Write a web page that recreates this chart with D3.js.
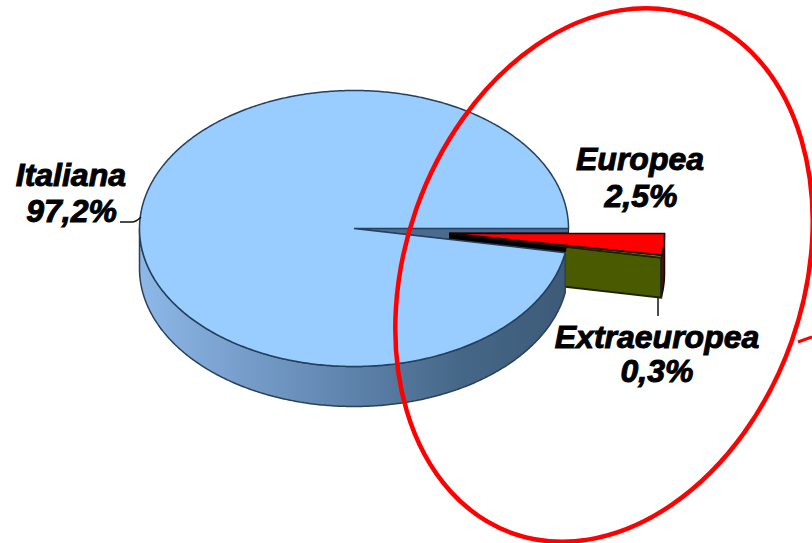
<!DOCTYPE html>
<html>
<head>
<meta charset="utf-8">
<script src="https://cdn.jsdelivr.net/npm/d3@7"></script>
<style>
html,body{margin:0;padding:0;background:#fff;overflow:hidden}
text{font-family:"Liberation Sans",Arial,sans-serif;font-weight:bold;font-style:italic;font-size:32px;fill:#000;stroke:#000;stroke-width:1px}
</style>
</head>
<body>
<svg id="c" width="812" height="543"></svg>
<script>
const categories = ["Europea", "Extraeuropea", "Italiana"];
const values = [2.5, 0.3, 97.2];
const valueLabels = ["2,5%", "0,3%", "97,2%"];
const colors = ["#ff0000", "#4a5a00", "#99ccff"];

const svg = d3.select("#c");
const defs = svg.append("defs");

const cx = 354, cy = 228.5, rx = 214.5, ry = 138, depth = 40;
const explodeX = 96, explodeY = 5;

const xS = d3.scaleLinear().domain([-1, 1]).range([cx - rx, cx + rx]);
const yS = d3.scaleLinear().domain([-1, 1]).range([cy - ry, cy + ry]);

const arcs = d3.pie().value(d => d).sort(null)
  .startAngle(Math.PI / 2).endAngle(Math.PI / 2 + 2 * Math.PI)(values);
// pie angles run clockwise from 12 o'clock
const toTheta = a => a - Math.PI / 2;
const line = d3.line().curve(d3.curveLinear);

const rim = (a0, a1, dx = 0, dy = 0) => {
  const n = Math.max(2, Math.ceil(Math.abs(a1 - a0) / 0.01));
  return d3.range(n + 1).map(i => {
    const t = toTheta(a0 + (a1 - a0) * i / n);
    return [xS(Math.cos(t)) + dx, yS(Math.sin(t)) + dy];
  });
};
const sector = (a0, a1, dx = 0, dy = 0) =>
  line([[cx + dx, cy + dy], ...rim(a0, a1, dx, dy)]) + "Z";
const radialWall = (a, dx, dy) => {
  const p = rim(a, a, dx, dy)[0];
  return line([[cx + dx, cy + dy], p, [p[0], p[1] + depth], [cx + dx, cy + dy + depth]]) + "Z";
};
const outerWall = (a0, a1, dx = 0, dy = 0) => {
  const top = rim(a0, a1, dx, dy);
  const bot = top.map(p => [p[0], p[1] + depth]).reverse();
  return line([...top, ...bot]) + "Z";
};

const eur = arcs[0], ext = arcs[1], ita = arcs[2];

const grad = defs.append("linearGradient").attr("id", "wall")
  .attr("gradientUnits", "userSpaceOnUse")
  .attr("x1", cx - rx).attr("x2", cx + rx).attr("y1", 0).attr("y2", 0);
[[0, "#8db8e8"], [0.2, "#7ba2d0"], [0.5, "#5d82ab"], [0.75, "#456787"], [1, "#3d5a78"]]
  .forEach(s => grad.append("stop").attr("offset", s[0]).attr("stop-color", s[1]));

defs.append("clipPath").attr("id", "cut").append("path")
  .attr("d", sector(eur.startAngle, ext.endAngle));

// exploded slices: walls
svg.append("path").attr("d", outerWall(eur.startAngle, ext.endAngle, explodeX, explodeY))
  .attr("fill", "#4a1020").attr("stroke", "#200").attr("stroke-width", 1.5);
svg.append("path").attr("d", radialWall(ext.endAngle, explodeX, explodeY))
  .attr("fill", colors[1]).attr("stroke", "#1c2200").attr("stroke-width", 2);

// main wall
const frontEnd = Math.PI / 2 + Math.PI;
svg.append("path").attr("d", outerWall(ita.startAngle, frontEnd))
  .attr("fill", "url(#wall)").attr("stroke", "#2b4058").attr("stroke-width", 1.5);

// wedge left open in the main top
svg.append("path").attr("d", sector(eur.startAngle, ext.endAngle))
  .attr("fill", "#4a6a90").attr("stroke", "#1d2d40").attr("stroke-width", 1.2);
svg.append("g").attr("clip-path", "url(#cut)").append("path")
  .attr("d", radialWall(ext.endAngle, explodeX, explodeY) + sector(eur.startAngle, ext.endAngle, explodeX, explodeY))
  .attr("fill", "#000").attr("stroke", "#000").attr("stroke-width", 2);

// exploded slices: tops
svg.append("path").attr("d", sector(ext.startAngle, ext.endAngle, explodeX, explodeY))
  .attr("fill", "#6f7a10").attr("stroke", "#1c2200").attr("stroke-width", 1.5);
svg.append("path").attr("d", sector(eur.startAngle, eur.endAngle, explodeX, explodeY))
  .attr("fill", colors[0]).attr("stroke", "#200").attr("stroke-width", 1.5);

// main top
svg.append("path").attr("d", sector(ita.startAngle, ita.endAngle))
  .attr("fill", colors[2]).attr("stroke", "#24405c").attr("stroke-width", 1.5);

// leaders
const leaders = svg.append("g").attr("fill", "none").attr("stroke", "#111").attr("stroke-width", 1.5);
leaders.append("path").attr("d", "M120,222H132Q136,222 141,217");
leaders.append("path").attr("d", "M658,298V316");

// labels
const labels = [
  { i: 2, x: [126, 117], y: [186, 222], a: "end" },
  { i: 0, x: [640, 641], y: [170, 207], a: "middle" },
  { i: 1, x: [657, 657], y: [348, 382], a: "middle" }
];
labels.forEach(l => {
  svg.append("text").attr("x", l.x[0]).attr("y", l.y[0]).attr("text-anchor", l.a).text(categories[l.i]);
  svg.append("text").attr("x", l.x[1]).attr("y", l.y[1]).attr("text-anchor", l.a).text(valueLabels[l.i]);
});

// annotation ellipse
svg.append("ellipse").attr("rx", 199).attr("ry", 274)
  .attr("transform", "translate(604,275) rotate(19.5)")
  .attr("fill", "none").attr("stroke", "#ff0000").attr("stroke-width", 4.5);
svg.append("path").attr("d", "M798,342L812,337").attr("fill", "none").attr("stroke", "#ff0000").attr("stroke-width", 3);
</script>
</body>
</html>
